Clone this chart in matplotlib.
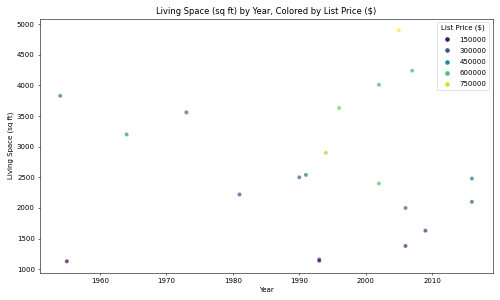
import matplotlib
matplotlib.use("Agg")
import matplotlib.pyplot as plt
import pandas as pd
import seaborn as sns

years = [1954, 1955, 1964, 1973, 1981, 1990, 1991, 1993, 1993, 1994,
         1996, 2002, 2002, 2005, 2006, 2006, 2007, 2009, 2016, 2016]
sqft = [3830, 1130, 3200, 3560, 2220, 2500, 2540, 1160, 1140, 2900,
        3630, 4010, 2400, 4900, 2000, 1380, 4240, 1630, 2480, 2100]
prices = [380000, 120000, 490000, 330000, 260000, 320000, 380000, 140000, 145000, 690000,
          640000, 575000, 605000, 790000, 315000, 190000, 585000, 205000, 385000, 320000]

df = pd.DataFrame({"Year": years, "Living Space (sq ft)": sqft, "List Price ($)": prices})

fig, ax = plt.subplots(figsize=(10, 6), dpi=50)
sns.scatterplot(data=df, x="Year", y="Living Space (sq ft)", hue="List Price ($)",
                palette="viridis", alpha=0.7, ax=ax)
ax.set_title("Living Space (sq ft) by Year, Colored by List Price ($)")

# legend swatches drawn opaque, like the original
handles, labels = ax.get_legend_handles_labels()
for h in handles:
    h.set_alpha(1)
ax.legend(handles, labels, title="List Price ($)", loc="upper right",
          labelspacing=0.75, markerscale=1.2)

fig.tight_layout()
fig.savefig("out.png")
